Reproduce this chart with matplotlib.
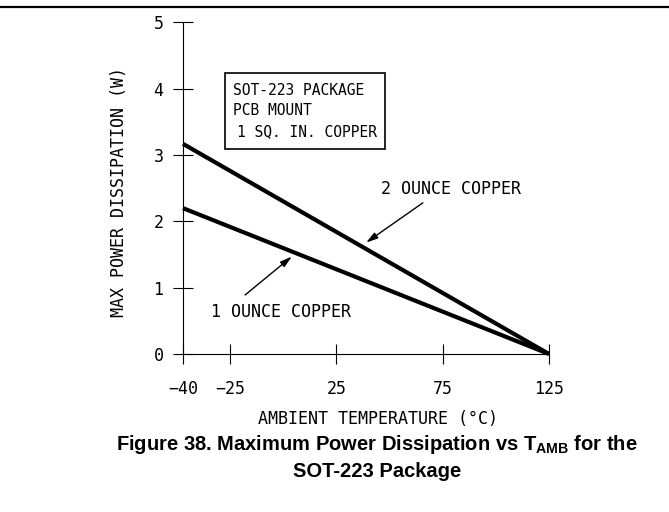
import numpy as np
import matplotlib
matplotlib.use('Agg')
import matplotlib.pyplot as plt
from matplotlib.lines import Line2D
from matplotlib.patches import Rectangle

# data
temp = [-40, 125]
power_2oz = [3.17, 0]
power_1oz = [2.2, 0]
x_ticks = [-40, -25, 25, 75, 125]
y_ticks = [0, 1, 2, 3, 4, 5]
box_lines = ['SOT-223 PACKAGE', 'PCB MOUNT', '1 SQ. IN. COPPER']

plt.rcParams['font.family'] = 'DejaVu Sans Mono'
plt.rcParams['mathtext.fontset'] = 'custom'
plt.rcParams['mathtext.rm'] = 'Liberation Sans:bold'
plt.rcParams['mathtext.bf'] = 'Liberation Sans:bold'


# the drawing stretches the -40..-25 span wider than the rest of the axis
def fwd(x):
    x = np.asarray(x, dtype=float)
    return np.where(x < -25, -25 + (x + 25) * 22.1 / 15, x)


def inv(x):
    x = np.asarray(x, dtype=float)
    return np.where(x < -25, -25 + (x + 25) * 15 / 22.1, x)


fig = plt.figure(figsize=(6.69, 5.12), dpi=100)
ax = fig.add_axes([0.2735, 0.3086, 0.5471, 0.6475])
ax.set_xscale('function', functions=(fwd, inv))
ax.set_xlim(-40, 125)
ax.set_ylim(0, 5)

ax.plot(temp, power_2oz, color='black', lw=3, solid_capstyle='butt', clip_on=False)
ax.plot(temp, power_1oz, color='black', lw=3, solid_capstyle='butt', clip_on=False)

for s in ['top', 'right']:
    ax.spines[s].set_visible(False)
for s in ['left', 'bottom']:
    ax.spines[s].set_linewidth(0.8)

ax.set_xticks(x_ticks)
ax.set_yticks(y_ticks)
ax.xaxis.set_minor_locator(matplotlib.ticker.NullLocator())
ax.tick_params(direction='inout', length=14, width=0.8, labelsize=12)
ax.tick_params(axis='x', pad=11.5)
ax.tick_params(axis='y', pad=7)

ax.set_xlabel('AMBIENT TEMPERATURE (°C)', fontsize=12)
ax.xaxis.set_label_coords(0.533, -0.168)
ax.set_ylabel('MAX POWER DISSIPATION (W)', fontsize=12)
ax.yaxis.set_label_coords(-0.149, 0.49)

# note box
ax.add_patch(Rectangle((0.115, 0.618), 0.437, 0.230, transform=ax.transAxes,
                       fc='white', ec='black', lw=1.2, zorder=3))
for i, line in enumerate(box_lines):
    x0 = 0.148 if i == 2 else 0.137
    ax.text(x0, 0.796 - i * 0.063, line, transform=ax.transAxes,
            ha='left', va='center', fontsize=10.5, zorder=4)

arrow = dict(arrowstyle='-|>,head_length=0.7,head_width=0.2', color='black',
             lw=1.0, shrinkA=0, shrinkB=0)
ax.annotate('', xy=(39, 1.68), xytext=(65.7, 2.28), arrowprops=arrow)
ax.text(78.9, 2.49, '2 OUNCE COPPER', ha='center', va='center', fontsize=12)
ax.annotate('', xy=(4.1, 1.47), xytext=(-17.9, 0.89), arrowprops=arrow)
ax.text(-0.8, 0.63, '1 OUNCE COPPER', ha='center', va='center', fontsize=12)

# page rule at the top
fig.add_artist(Line2D([0, 1], [0.986, 0.986], color='black', lw=1.6,
                      transform=fig.transFigure))

fig.text(0.564, 0.107,
         'Figure 38. Maximum Power Dissipation vs T$_{\\mathbf{AMB}}$ for the\nSOT-223 Package',
         ha='center', va='center', fontsize=14.5, fontweight='bold',
         family='Liberation Sans', linespacing=1.4)

fig.savefig('out.png', dpi=100)
